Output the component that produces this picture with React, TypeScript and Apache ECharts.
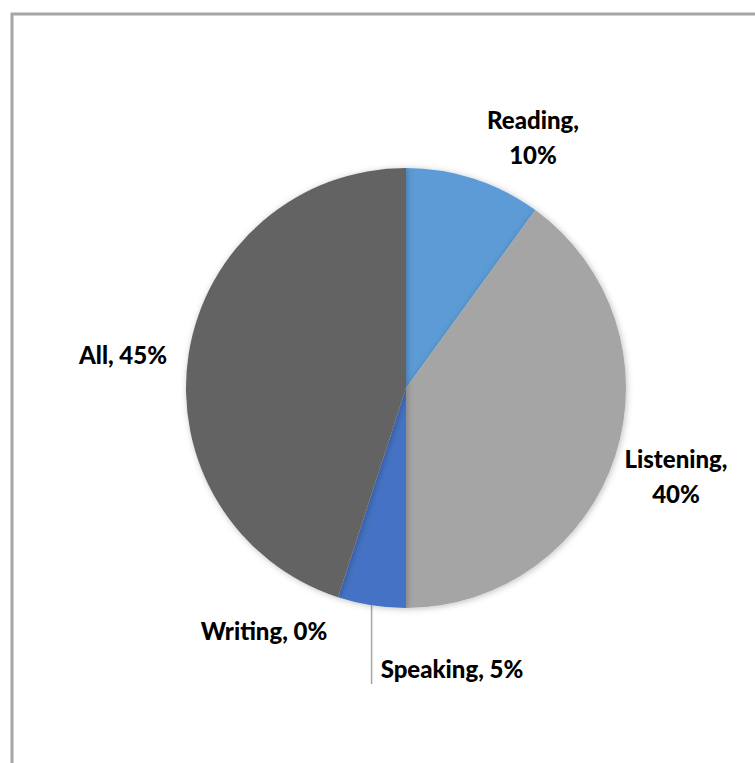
import React, { useEffect, useRef } from "react";
import * as echarts from "echarts";

const categories = ["Reading", "Listening", "Speaking", "Writing", "All"];
const values = [10, 40, 5, 0, 45];
const colors = ["#5B9BD5", "#A5A5A5", "#4472C4", "#FFC000", "#636363"];
// label anchor positions (px) for each category, as placed in the reference
const labelPos: [number, number][] = [
  [533, 137],
  [676, 476],
  [452, 668],
  [264, 630],
  [123, 354],
];
const labelText = ["Reading,\n10%", "Listening,\n40%", "Speaking, 5%", "Writing, 0%", "All, 45%"];

const CX = 406;
const CY = 388;
const R = 220;

export default function App() {
  const ref = useRef<HTMLDivElement>(null);
  useEffect(() => {
    if (!ref.current) return;
    const chart = echarts.init(ref.current, null, { renderer: "svg" });
    const total = values.reduce((a, b) => a + b, 0);
    const midAngles: number[] = [];
    let acc = 0;
    values.forEach((v) => {
      midAngles.push(((acc + v / 2) / total) * Math.PI * 2);
      acc += v;
    });
    chart.setOption({
      animation: false,
      backgroundColor: "#FFFFFF",
      graphic: [
        {
          type: "rect",
          shape: { x: 12, y: 14, width: 780, height: 780 },
          style: { fill: "none", stroke: "#A6A6A6", lineWidth: 3 },
          silent: true,
        },
      ],
      series: [
        {
          type: "pie",
          center: [CX, CY],
          radius: R,
          startAngle: 90,
          clockwise: true,
          avoidLabelOverlap: false,
          itemStyle: {
            shadowBlur: 6,
            shadowColor: "rgba(0,0,0,0.25)",
            shadowOffsetX: 1,
            shadowOffsetY: 1,
          },
          label: {
            show: true,
            fontFamily: "Lato",
            fontWeight: 900,
            fontSize: 24,
            color: "#000000",
            lineHeight: 35,
            align: "center",
            formatter: (p: any) => labelText[p.dataIndex],
          },
          labelLine: { show: false },
          labelLayout: (p: any) => {
            const i = p.dataIndex;
            const res: any = {
              x: labelPos[i][0],
              y: labelPos[i][1],
              align: "center",
              verticalAlign: "middle",
            };
            if (categories[i] === "Speaking") {
              const a = midAngles[i];
              const sx = CX + R * Math.sin(a);
              const sy = CY - R * Math.cos(a);
              res.labelLinePoints = [
                [sx, sy],
                [sx, sy + 38],
                [sx, 684],
              ];
            }
            return res;
          },
          data: categories.map((c, i) => ({
            name: c,
            value: values[i],
            itemStyle: { color: colors[i] },
            labelLine:
              c === "Speaking"
                ? { show: true, lineStyle: { color: "#A6A6A6", width: 1.5 } }
                : { show: false },
          })),
        },
      ],
    });
    return () => chart.dispose();
  }, []);
  return (
    <div
      ref={ref}
      style={{ position: "fixed", left: 0, top: 0, width: 755, height: 763 }}
    />
  );
}
